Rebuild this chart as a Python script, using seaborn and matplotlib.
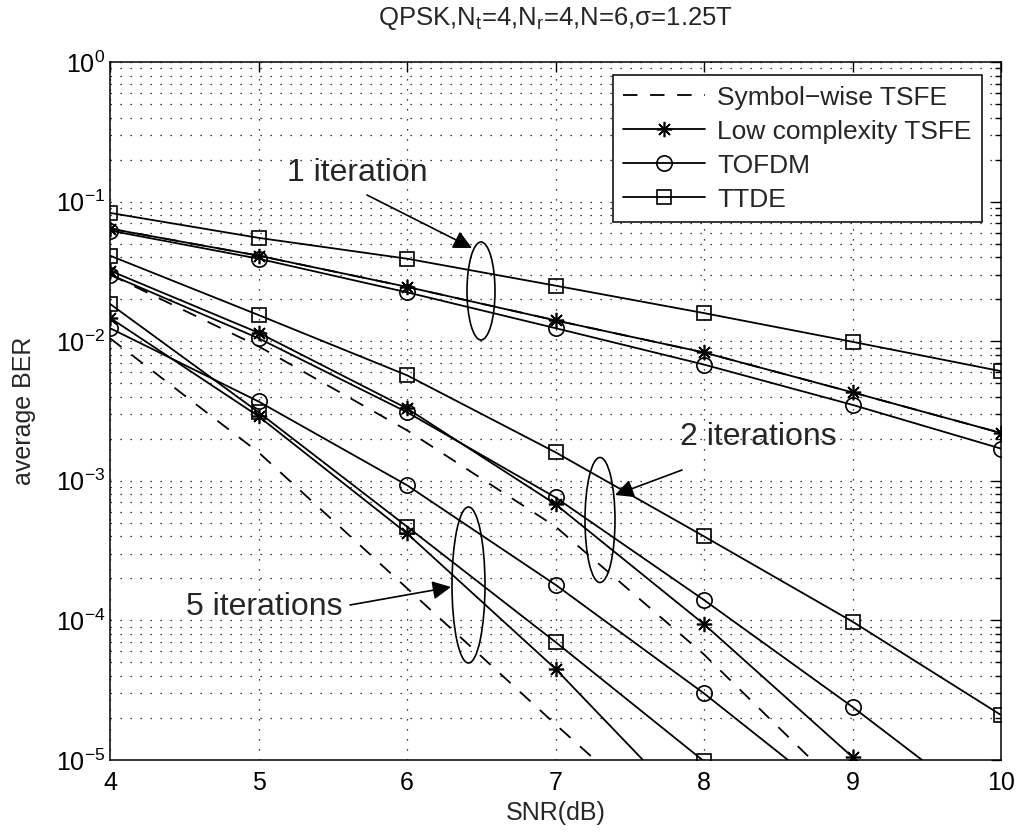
import numpy as np
import pandas as pd
import matplotlib
matplotlib.use("Agg")
import matplotlib.pyplot as plt
import seaborn as sns
from matplotlib.patches import Ellipse
from matplotlib.ticker import LogLocator, NullFormatter

# ---------------- data ----------------
snr = [4, 5, 6, 7, 8, 9, 10]

# Symbol-wise TSFE (dashed)
sw_1 = [0.064, 0.041, 0.0245, 0.0141, 0.0083, 0.0043, 0.0022]
sw_2 = [0.030, 0.0092, 0.0023, 4.7e-4, 5.7e-5, 5.2e-6, 4e-7]
sw_5 = [0.0105, 0.0016, 1.7e-4, 1.8e-5, 2e-6, 2e-7, 2e-8]

# Low complexity TSFE (asterisk)
lc_1 = [0.064, 0.041, 0.0245, 0.0141, 0.0083, 0.0043, 0.0022]
lc_2 = [0.032, 0.0115, 0.0033, 6.8e-4, 9.4e-5, 1.05e-5, 1.1e-6]
lc_5 = [0.0147, 0.0029, 4.2e-4, 4.5e-5, 3.5e-6, 3e-7, 3e-8]

# TOFDM (circle)
to_1 = [0.062, 0.039, 0.0224, 0.0124, 0.0068, 0.0035, 0.0017]
to_2 = [0.030, 0.0105, 0.0031, 7.6e-4, 1.4e-4, 2.4e-5, 3.7e-6]
to_5 = [0.0124, 0.0037, 9.3e-4, 1.8e-4, 3.0e-5, 4.3e-6, 5e-7]

# TTDE (square)
tt_1 = [0.083, 0.055, 0.039, 0.025, 0.0159, 0.0099, 0.0061]
tt_2 = [0.041, 0.0154, 0.0057, 0.0016, 4.0e-4, 9.8e-5, 2.1e-5]
tt_5 = [0.0185, 0.0031, 4.7e-4, 7.0e-5, 9.8e-6, 1e-6, 1e-7]

legend_labels = ["Symbol\u2212wise TSFE", "Low complexity TSFE", "TOFDM", "TTDE"]
title_text = "QPSK,N$_\\mathregular{t}$=4,N$_\\mathregular{r}$=4,N=6,\u03c3=1.25T"
ann_1 = "1 iteration"
ann_2 = "2 iterations"
ann_5 = "5 iterations"

# ---------------- style ----------------
sns.set_style("white")
plt.rcParams["font.family"] = ["Liberation Sans", "DejaVu Sans"]
plt.rcParams["mathtext.fontset"] = "custom"
plt.rcParams["mathtext.rm"] = "Liberation Sans"
plt.rcParams["mathtext.default"] = "regular"

fig = plt.figure(figsize=(10.29, 8.33), dpi=100)
ax = fig.add_axes([110 / 1029, 73 / 833, 891 / 1029, 698 / 833])

LW = 1.3
common = dict(color="black", linewidth=LW, ax=ax, legend=False)

groups = [
    ([sw_1, sw_2, sw_5], dict(linestyle=(0, (8, 7)), marker=None)),
    ([lc_1, lc_2, lc_5], dict(linestyle="-", marker=(8, 2, 0), markersize=11,
                               markeredgewidth=1.2, markeredgecolor="black")),
    ([to_1, to_2, to_5], dict(linestyle="-", marker="o", markersize=11,
                               markerfacecolor="none", markeredgewidth=1.2,
                               markeredgecolor="black")),
    ([tt_1, tt_2, tt_5], dict(linestyle="-", marker="s", markersize=10,
                               markerfacecolor="none", markeredgewidth=1.2,
                               markeredgecolor="black")),
]

handles = []
for series_list, kw in groups:
    for i, vals in enumerate(series_list):
        df = pd.DataFrame({"snr": snr, "ber": vals})
        sns.lineplot(data=df, x="snr", y="ber", **common, **kw)
        if i == 0:
            handles.append(ax.get_lines()[-1])

ax.set_yscale("log")
ax.set_xlim(4, 10)
ax.set_ylim(1e-5, 1)
ax.set_xticks(snr)
ax.yaxis.set_major_locator(LogLocator(base=10, numticks=10))
ax.yaxis.set_minor_locator(LogLocator(base=10, subs=np.arange(2, 10), numticks=20))
ax.yaxis.set_minor_formatter(NullFormatter())

ax.grid(True, which="major", axis="both", color="black",
        linestyle=(0, (1, 7)), linewidth=0.9)
ax.grid(True, which="minor", axis="y", color="black",
        linestyle=(0, (1, 7)), linewidth=0.9)

ax.tick_params(axis="both", which="both", direction="in", top=True, right=True,
               labelsize=18, colors="black")
ax.tick_params(which="major", length=7, width=1)
ax.tick_params(which="minor", length=4, width=1)
ax.tick_params(axis="x", pad=8)
for s in ax.spines.values():
    s.set_visible(True)
    s.set_color("black")
    s.set_linewidth(1.1)

ax.set_xlabel("SNR(dB)", fontsize=18, labelpad=4)
ax.set_ylabel("average BER", fontsize=18)
ax.yaxis.set_label_coords((36 - 110) / 891, 0.5)
ax.text(0.5, 1 + (62 - 19) / 698, title_text, transform=ax.transAxes,
        ha="center", va="center", fontsize=18.5)

leg = ax.legend(handles, legend_labels, loc="upper right",
                bbox_to_anchor=(982 / 1029, 1 - 75 / 833),
                bbox_transform=fig.transFigure, borderaxespad=0,
                fontsize=19, handlelength=3.1, handletextpad=0.45,
                labelspacing=0.38, borderpad=0.4, fancybox=False,
                framealpha=1, edgecolor="black")
leg.get_frame().set_linewidth(1.1)

# annotations (axes-fraction coordinates)
def fx(px):
    return (px - 110) / 891

def fy(py):
    return (760 - py) / 698

arrow_kw = dict(arrowstyle="-|>", color="black", lw=1.2, mutation_scale=28,
                shrinkA=0, shrinkB=0)

# 1 iteration
ax.add_patch(Ellipse((fx(481), fy(291)), 28 / 891, 98 / 698, transform=ax.transAxes,
                     fill=False, edgecolor="black", lw=1.2))
ax.annotate("", xy=(fx(472), fy(248)), xytext=(fx(367), fy(195)),
            xycoords="axes fraction", textcoords="axes fraction", arrowprops=arrow_kw)
ax.text(fx(357), fy(173), ann_1, transform=ax.transAxes, ha="center", va="center",
        fontsize=23)

# 2 iterations
ax.add_patch(Ellipse((fx(600), fy(520)), 30 / 891, 125 / 698, transform=ax.transAxes,
                     fill=False, edgecolor="black", lw=1.2))
ax.annotate("", xy=(fx(615), fy(495)), xytext=(fx(682), fy(470)),
            xycoords="axes fraction", textcoords="axes fraction", arrowprops=arrow_kw)
ax.text(fx(758), fy(437), ann_2, transform=ax.transAxes, ha="center", va="center",
        fontsize=23)

# 5 iterations
ax.add_patch(Ellipse((fx(468.5), fy(585)), 33 / 891, 156 / 698, transform=ax.transAxes,
                     fill=False, edgecolor="black", lw=1.2))
ax.annotate("", xy=(fx(451), fy(587)), xytext=(fx(350), fy(605)),
            xycoords="axes fraction", textcoords="axes fraction", arrowprops=arrow_kw)
ax.text(fx(343), fy(607), ann_5, transform=ax.transAxes, ha="right", va="center",
        fontsize=23)

fig.savefig("out.png", dpi=100)
